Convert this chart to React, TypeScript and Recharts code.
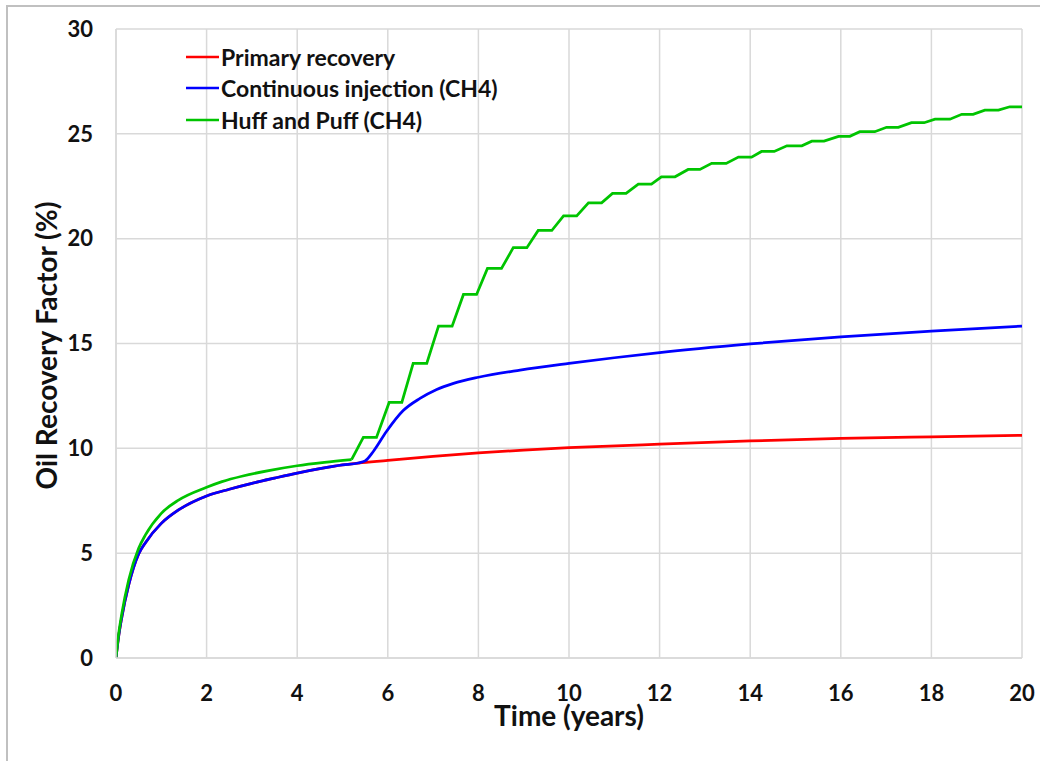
import React from 'react';
import { LineChart, Line, XAxis, YAxis, CartesianGrid, Label } from 'recharts';

// axis ticks
const X_TICKS = [0, 2, 4, 6, 8, 10, 12, 14, 16, 18, 20];
const Y_TICKS = [0, 5, 10, 15, 20, 25, 30];

// before injection starts, primary and continuous injection follow the same curve
const BASE_T = [0, 0.05, 0.13, 0.28, 0.5, 0.65, 1.0, 1.38, 2.0, 2.5, 3.0, 3.5, 4.0, 4.5, 5.0, 5.35];
const BASE_V = [0, 0.9, 1.97, 3.48, 4.96, 5.5, 6.42, 7.06, 7.73, 8.05, 8.33, 8.58, 8.82, 9.03, 9.21, 9.3];

const PRIMARY_LATE_T = [6, 7, 8, 9, 10, 12, 14, 16, 18, 20];
const PRIMARY_LATE_V = [9.42, 9.62, 9.78, 9.92, 10.03, 10.2, 10.35, 10.47, 10.55, 10.62];

const CONT_LATE_T = [5.5, 5.68, 5.97, 6.34, 6.71, 7.08, 7.45, 8, 8.92, 10, 11, 12, 14, 16, 18, 20];
const CONT_LATE_V = [9.4, 9.85, 10.8, 11.8, 12.38, 12.81, 13.1, 13.39, 13.73, 14.05, 14.32, 14.57, 14.98, 15.32, 15.59, 15.83];

// huff and puff: smooth part, then one plateau per cycle
const HUFF_EARLY_T = [0, 0.05, 0.13, 0.28, 0.5, 0.65, 1.0, 1.38, 2.0, 2.34, 2.8, 3.4, 4.0, 4.6, 5.2];
const HUFF_EARLY_V = [0, 1.0, 2.13, 3.72, 5.23, 5.87, 6.9, 7.53, 8.14, 8.41, 8.68, 8.95, 9.17, 9.33, 9.46];

const PLATEAU_START = [5.46, 6.03, 6.56, 7.12, 7.67, 8.2, 8.77, 9.32, 9.88, 10.43, 10.96, 11.53, 12.04, 12.63, 13.15, 13.74, 14.25, 14.81, 15.36, 15.95, 16.42, 17.01, 17.56, 18.08, 18.67, 19.18, 19.73];
const PLATEAU_END = [5.75, 6.31, 6.86, 7.42, 7.96, 8.51, 9.07, 9.62, 10.17, 10.72, 11.26, 11.82, 12.34, 12.89, 13.47, 14.03, 14.53, 15.14, 15.63, 16.2, 16.75, 17.27, 17.84, 18.41, 18.92, 19.48, 20];
const PLATEAU_V = [10.52, 12.19, 14.05, 15.83, 17.34, 18.58, 19.57, 20.39, 21.09, 21.71, 22.16, 22.6, 22.95, 23.3, 23.59, 23.89, 24.16, 24.43, 24.65, 24.88, 25.1, 25.31, 25.53, 25.7, 25.93, 26.13, 26.29];

const SERIES = [
  { name: 'Primary recovery', color: '#ff0000' },
  { name: 'Continuous injection (CH4)', color: '#0000ff' },
  { name: 'Huff and Puff (CH4)', color: '#00c400' },
];

const toPoints = (ts: number[], vs: number[]) => ts.map((t, i) => ({ t, v: vs[i] }));

const primaryData = [...toPoints(BASE_T, BASE_V), ...toPoints(PRIMARY_LATE_T, PRIMARY_LATE_V)];
const continuousData = [...toPoints(BASE_T, BASE_V), ...toPoints(CONT_LATE_T, CONT_LATE_V)];
const huffEarlyData = toPoints(HUFF_EARLY_T, HUFF_EARLY_V);
const huffStepData = [
  { t: HUFF_EARLY_T[HUFF_EARLY_T.length - 1], v: HUFF_EARLY_V[HUFF_EARLY_V.length - 1] },
  ...PLATEAU_V.flatMap((v, i) => [
    { t: PLATEAU_START[i], v },
    { t: PLATEAU_END[i], v },
  ]),
];

const FONT = 'Lato, "Open Sans", sans-serif';
const GRID = '#d9d9d9';
const TEXT = '#111';

const tickStyle = { fill: TEXT, fontSize: 22, fontWeight: 700, fontFamily: FONT };

// legend sits inside the plot, top left
const ChartLegend = () => (
  <div style={{ position: 'absolute', left: 186, top: 41, fontFamily: FONT, zIndex: 2 }}>
    {SERIES.map(s => (
      <div key={s.name} style={{ display: 'flex', alignItems: 'center', height: 31.5 }}>
        <svg width={33} height={6}>
          <line x1={0} y1={3} x2={33} y2={3} stroke={s.color} strokeWidth={2.5} />
        </svg>
        <span style={{ marginLeft: 2, fontSize: 23, fontWeight: 700, color: TEXT, lineHeight: '26px' }}>{s.name}</span>
      </div>
    ))}
  </div>
);

export default function App() {
  return (
    <div style={{ position: 'absolute', left: 0, top: 0, width: 1040, height: 761, background: '#fff' }}>
      <LineChart width={1040} height={761} margin={{ top: 29, right: 18, bottom: 43, left: 0 }}>
        <CartesianGrid stroke={GRID} strokeWidth={1.5} />
        <XAxis
          type="number"
          dataKey="t"
          domain={[0, 20]}
          ticks={X_TICKS}
          height={60}
          tickSize={0}
          tickMargin={27}
          axisLine={{ stroke: GRID, strokeWidth: 1.5 }}
          tick={tickStyle}
          allowDataOverflow
        >
          <Label
            content={({ viewBox }: any) => (
              <text
                x={viewBox.x + viewBox.width / 2}
                y={viewBox.y + 68}
                textAnchor="middle"
                fill={TEXT}
                fontSize={28}
                fontWeight={700}
                fontFamily={FONT}
              >
                Time (years)
              </text>
            )}
          />
        </XAxis>
        <YAxis
          type="number"
          domain={[0, 30]}
          ticks={Y_TICKS}
          width={116}
          tickSize={0}
          tickMargin={23}
          axisLine={{ stroke: GRID, strokeWidth: 1.5 }}
          tick={tickStyle}
          allowDataOverflow
        >
          <Label
            content={({ viewBox }: any) => {
              const cx = 46;
              const cy = viewBox.y + viewBox.height / 2 + 2;
              return (
                <text
                  x={cx}
                  y={cy}
                  transform={`rotate(-90 ${cx} ${cy})`}
                  textAnchor="middle"
                  dominantBaseline="central"
                  fill={TEXT}
                  fontSize={28}
                  fontWeight={700}
                  fontFamily={FONT}
                >
                  Oil Recovery Factor (%)
                </text>
              );
            }}
          />
        </YAxis>
        <Line data={primaryData} dataKey="v" type="monotone" stroke={SERIES[0].color} strokeWidth={2.75} dot={false} activeDot={false} isAnimationActive={false} />
        <Line data={continuousData} dataKey="v" type="monotone" stroke={SERIES[1].color} strokeWidth={2.75} dot={false} activeDot={false} isAnimationActive={false} />
        <Line data={huffEarlyData} dataKey="v" type="monotone" stroke={SERIES[2].color} strokeWidth={2.75} dot={false} activeDot={false} isAnimationActive={false} />
        <Line data={huffStepData} dataKey="v" type="linear" stroke={SERIES[2].color} strokeWidth={2.75} dot={false} activeDot={false} isAnimationActive={false} />
      </LineChart>
      <ChartLegend />
      <div
        style={{
          position: 'absolute', left: 6, top: 5, right: 0, bottom: 0, pointerEvents: 'none',
          borderTop: '2px solid #c0c0c0', borderLeft: '2px solid #c0c0c0',
        }}
      />
    </div>
  );
}
